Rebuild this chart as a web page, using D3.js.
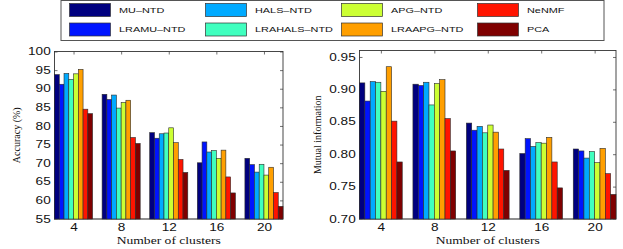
<!DOCTYPE html>
<html>
<head>
<meta charset="utf-8">
<script src="https://cdn.jsdelivr.net/npm/d3@7"></script>
<style>
  body { margin: 0; background: #fff; }
  svg { display: block; }
</style>
</head>
<body>
<div id="chart"></div>
<script>
// categories and series
const clusters = [4, 8, 12, 16, 20];
const methods = ["MU–NTD", "LRAMU–NTD", "HALS–NTD", "LRAHALS–NTD", "APG–NTD", "LRAAPG–NTD", "NeNMF", "PCA"];
const colors = ["#00007f", "#0014ff", "#00aaff", "#40ffbf", "#ccff33", "#ff9f00", "#ff1400", "#7f0000"];

// accuracy (%) per method, one value per cluster count
const accMU      = [93.8, 88.5, 78.2, 70.1, 71.3];
const accLRAMU   = [91.2, 87.1, 76.7, 75.7, 69.6];
const accHALS    = [94.1, 88.3, 77.9, 73.0, 67.6];
const accLRAHALS = [92.5, 84.8, 78.1, 73.4, 69.7];
const accAPG     = [94.0, 86.3, 79.5, 71.3, 66.8];
const accLRAAPG  = [95.2, 86.9, 75.5, 73.5, 68.9];
const accNeNMF   = [84.5, 76.9, 71.0, 66.3, 62.1];
const accPCA     = [83.3, 75.3, 67.5, 62.0, 58.4];

// mutual information per method
const miMU      = [0.910, 0.908, 0.848, 0.801, 0.808];
const miLRAMU   = [0.882, 0.906, 0.837, 0.824, 0.805];
const miHALS    = [0.912, 0.911, 0.843, 0.812, 0.794];
const miLRAHALS = [0.911, 0.876, 0.833, 0.818, 0.804];
const miAPG     = [0.897, 0.909, 0.845, 0.817, 0.787];
const miLRAAPG  = [0.935, 0.915, 0.834, 0.826, 0.809];
const miNeNMF   = [0.851, 0.855, 0.808, 0.788, 0.770];
const miPCA     = [0.788, 0.805, 0.775, 0.748, 0.738];

// tick labels
const accTicks = [55, 60, 65, 70, 75, 80, 85, 90, 95, 100];
const miTicks = [0.7, 0.75, 0.8, 0.85, 0.9, 0.95];

const accuracy = [accMU, accLRAMU, accHALS, accLRAHALS, accAPG, accLRAAPG, accNeNMF, accPCA];
const mutualInfo = [miMU, miLRAMU, miHALS, miLRAHALS, miAPG, miLRAAPG, miNeNMF, miPCA];

const W = 623, H = 249;
const SX = 1.36;   // the picture is stretched sideways
const serif = "'Liberation Serif', 'Times New Roman', serif";
const sans = "'Liberation Sans', Arial, sans-serif";

const svg = d3.select("#chart").append("svg")
    .attr("width", W)
    .attr("height", H);

function drawPanel(p) {
    const x = d3.scaleLinear().domain([2.4, 21.6]).range([p.left, p.right]);
    const y = d3.scaleLinear().domain(p.yDomain).range([p.bottom, p.top]);
    const inner = d3.scaleBand().domain(methods).range([-1.6, 1.6]);

    const g = svg.append("g");

    // ticks (inward, matlab style)
    const ax = g.append("g").attr("font-family", serif).attr("font-size", 10);
    ax.append("g")
      .attr("transform", `translate(${p.left},0)`)
      .call(d3.axisLeft(y).tickValues(p.ticks).tickSize(-3).tickPadding(2.8).tickSizeOuter(0));
    ax.append("g")
      .attr("transform", `translate(${p.right},0)`)
      .call(d3.axisRight(y).tickValues(p.ticks).tickSize(-3).tickFormat("").tickSizeOuter(0));
    ax.append("g")
      .attr("transform", `translate(0,${p.bottom})`)
      .call(d3.axisBottom(x).tickValues(clusters).tickSize(-3).tickPadding(5.2).tickSizeOuter(0));
    ax.append("g")
      .attr("transform", `translate(0,${p.top})`)
      .call(d3.axisTop(x).tickValues(clusters).tickSize(-3).tickFormat("").tickSizeOuter(0));
    ax.selectAll(".domain").remove();
    ax.selectAll("line").attr("stroke", "#333").attr("stroke-width", 0.7);
    ax.selectAll("text").attr("fill", "#111").attr("transform", `scale(${SX},1)`);

    // frame
    g.append("rect")
     .attr("x", p.left).attr("y", p.top)
     .attr("width", p.right - p.left).attr("height", p.bottom - p.top)
     .attr("fill", "none").attr("stroke", "#333").attr("stroke-width", 0.9);

    // baseline
    g.append("line")
     .attr("x1", p.left).attr("x2", p.right)
     .attr("y1", p.bottom).attr("y2", p.bottom)
     .attr("stroke", "#888").attr("stroke-width", 1.6);

    // bars
    methods.forEach((m, i) => {
        g.append("g").selectAll("rect")
         .data(clusters.map((c, j) => ({ c: c, v: p.values[i][j] })))
         .join("rect")
         .attr("x", d => x(d.c + inner(m)))
         .attr("width", d => x(d.c + inner(m) + inner.bandwidth()) - x(d.c + inner(m)))
         .attr("y", d => y(d.v))
         .attr("height", d => y(p.yDomain[0]) - y(d.v))
         .attr("fill", colors[i])
         .attr("stroke", "#2b2b2b")
         .attr("stroke-width", 0.6);
    });

    // axis titles
    g.append("text")
     .attr("transform", `translate(${(p.left + p.right) / 2},243.5) scale(${SX},1)`)
     .attr("text-anchor", "middle")
     .attr("font-family", serif).attr("font-size", 10).attr("fill", "#111")
     .text("Number of clusters");
    g.append("text")
     .attr("transform", `translate(${p.labelX},${(p.top + p.bottom) / 2}) rotate(-90)`)
     .attr("text-anchor", "middle")
     .attr("font-family", serif).attr("font-size", 10).attr("fill", "#111")
     .text(p.yLabel);
}

drawPanel({ left: 54.5, right: 283, top: 51.5, bottom: 219, yDomain: [55, 100],
            ticks: accTicks, values: accuracy, yLabel: "Accuracy (%)", labelX: 19.5 });
drawPanel({ left: 359.5, right: 616, top: 50.5, bottom: 219, yDomain: [0.7, 0.96],
            ticks: miTicks, values: mutualInfo, yLabel: "Mutual information", labelX: 320.5 });

// legend
const lg = svg.append("g");
lg.append("rect")
  .attr("x", 61).attr("y", 0.5).attr("width", 543).attr("height", 40)
  .attr("fill", "#fff").attr("stroke", "#555").attr("stroke-width", 1);

const legCol = d3.scaleLinear().domain([0, 3]).range([69.5, 477.5]);
const legRow = d3.scaleLinear().domain([0, 1]).range([10, 29.5]);

methods.forEach((m, i) => {
    const cx = legCol(Math.floor(i / 2));
    const cy = legRow(i % 2);
    lg.append("rect")
      .attr("x", cx).attr("y", cy - 6.5).attr("width", 41).attr("height", 13)
      .attr("fill", colors[i]).attr("stroke", "#333").attr("stroke-width", 0.7);
    lg.append("text")
      .attr("transform", `translate(${cx + 49.5},${cy + 2.9}) scale(${SX},1)`)
      .attr("font-family", sans).attr("font-size", 8).attr("fill", "#111")
      .text(m);
});
</script>
</body>
</html>
